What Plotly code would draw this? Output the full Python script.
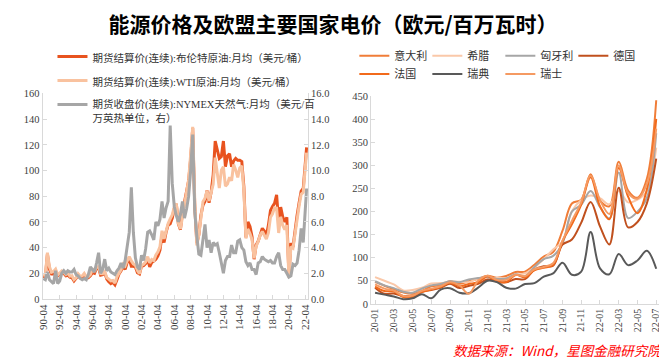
import pandas as pd
import plotly.graph_objects as go

# ---------------- Left chart data (quarterly, from 1990-04, last point 2022-06) ----------------
oil_start = "1990-04-01"
brent = [18, 17, 35,
         23, 19.5, 19.5, 22, 18, 19.5, 20, 20, 18, 18.5, 17, 16.5, 14, 16, 18, 16.5,
         16.5, 18.5, 16.5, 16.5, 18, 20.5, 20, 24, 24, 18.5, 19, 20.5, 15.5, 13.5, 12, 13,
         11, 15, 19.5, 22, 25.5, 23, 28.5, 31, 25.5, 25.5, 25, 20.5, 19.5, 25.5, 26, 27.5,
         31, 25, 28.5, 29.5, 31, 33.5, 38, 49.5, 44, 52, 57.5, 58.5, 63, 70.5, 74, 58.5,
         54, 67.5, 75, 82.5, 92, 109, 133, 72, 43.5, 50, 65, 73, 76, 84.5, 75, 83,
         96.5, 123, 117, 109.5, 111, 123, 103, 111.5, 113, 103, 107.5, 109.5, 108, 108, 107, 87.5,
         48, 60, 56.5, 48.5, 31, 42, 45, 49.5, 55, 53, 49, 57.5, 69, 72, 74.5, 81,
         60, 71.5, 64, 60, 63.5, 18.5, 43.5, 40.5, 55, 65, 75, 84, 86, 105, 118]
wti = [18.5, 18.5, 36,
       25, 20.8, 21.4, 23.2, 18.8, 20.2, 21.8, 20.6, 19.1, 20.2, 17.8, 18.1, 15, 16.4, 19.6, 17.7,
       18, 19.9, 17.3, 17.4, 18.9, 23.6, 21.3, 24.9, 25.2, 19.7, 19.6, 21.3, 16.7, 15.4, 14.1, 14.4,
       12.5, 17.3, 19.7, 22.8, 27.2, 25.7, 29.8, 33, 29.6, 27.4, 26.3, 22.2, 19.7, 26.2, 27, 28.8,
       33, 28.1, 30.7, 29.9, 34.3, 36.7, 40.7, 53.1, 46.8, 53.1, 58.7, 62.4, 65.5, 71.8, 74.4, 58.9,
       54.6, 63.9, 74.1, 85.8, 92.9, 112.6, 134, 76.7, 41.7, 49.8, 64.1, 75.7, 78.3, 84.3, 76.3, 81.9,
       89.4, 110, 97.2, 86.3, 100.3, 102.9, 87.9, 89.5, 94.8, 92, 104.7, 100.5, 94.6, 102, 103.6, 84.4,
       47.2, 54.5, 50.9, 46.2, 31.7, 41.1, 44.7, 49.8, 52.5, 49.3, 46.6, 51.6, 63.7, 66.3, 71, 70.8,
       51.4, 63.9, 57.4, 54, 57.5, 16.6, 40.7, 39.6, 52, 61.7, 72.5, 81.5, 83, 102, 114]
gas = [1.6, 1.5, 2.1,
       1.5, 1.35, 1.2, 2.2, 1.2, 1.4, 2.0, 2.2, 2.0, 2.2, 2.1, 2.1, 2.3, 1.9, 1.8, 1.6,
       1.5, 1.6, 1.5, 1.9, 2.5, 2.3, 2.1, 2.8, 3.6, 2.0, 2.3, 3.1, 2.2, 2.4, 2.1, 2.0,
       1.9, 2.2, 2.4, 2.8, 2.4, 3.0, 4.2, 5.2, 8.7, 5.2, 3.2, 2.5, 2.3, 3.4, 3.0, 3.9,
       5.2, 5.3, 5.0, 4.6, 6.0, 5.7, 6.2, 7.6, 6.3, 7.1, 7.6, 13.5, 9.0, 7.2, 6.5, 6.0,
       6.6, 7.6, 6.3, 7.0, 8.0, 10.0, 12.8, 6.8, 4.9, 3.5, 3.4, 4.6, 5.8, 4.0, 4.6, 3.6,
       4.4, 4.2, 4.3, 3.6, 2.7, 2.0, 3.0, 3.3, 3.3, 4.2, 3.6, 3.6, 4.5, 4.6, 4.0, 3.8,
       2.9, 2.6, 2.8, 2.3, 2.3, 1.9, 2.8, 2.9, 3.3, 3.1, 3.0, 2.9, 3.0, 2.8, 2.8, 3.3,
       3.6, 2.6, 2.3, 2.3, 2.0, 1.7, 1.8, 2.7, 2.6, 2.8, 3.8, 5.5, 4.4, 7.0, 8.6]
oil_ticks = ["90-04", "92-04", "94-04", "96-04", "98-04", "00-04", "02-04", "04-04",
             "06-04", "08-04", "10-04", "12-04", "14-04", "16-04", "18-04", "20-04", "22-04"]

# ---------------- Right chart data (monthly) ----------------
months = ["20-01", "20-02", "20-03", "20-04", "20-05", "20-06", "20-07", "20-08", "20-09", "20-10",
          "20-11", "20-12", "21-01", "21-02", "21-03", "21-04", "21-05", "21-06", "21-07", "21-08",
          "21-09", "21-10", "21-11", "21-12", "22-01", "22-02", "22-03", "22-04", "22-05", "22-06", "22-07"]
italy = [47.5, 39.3, 32.0, 24.8, 21.8, 28.0, 38.0, 40.3, 48.8, 43.6, 48.8, 54.4, 60.7, 56.6, 60.4, 69.0,
         69.9, 84.8, 102.7, 112.4, 158.6, 217.6, 225.9, 281.2, 224.5, 211.7, 308.1, 245.9, 230.1, 271.3, 441.6]
greece = [58, 50, 42, 29, 30, 35, 44, 45, 48, 48, 47, 55, 53, 56, 56, 63,
          66, 79, 97, 118, 135, 201, 225, 235, 229, 216, 245, 220, 226, 245, 339]
hungary = [49, 40, 34, 26, 24, 33, 40, 43, 49, 47, 53, 56, 58, 54, 55, 64,
           60, 80, 97, 104, 131, 200, 215, 245, 210, 185, 285, 186, 200, 230, 370]
germany = [35.0, 21.9, 22.5, 17.1, 17.6, 26.2, 30.1, 34.9, 43.7, 34.4, 38.8, 43.5, 52.8, 48.8, 47.0, 53.7,
           53.7, 74.1, 81.5, 82.7, 128.4, 139.5, 176.2, 221.1, 167.9, 128.8, 252.0, 165.8, 177.5, 218.0, 315.0]
france = [37.5, 27.8, 26.7, 15.0, 14.2, 25.5, 31.2, 36.4, 45.7, 38.2, 43.2, 46.9, 59.6, 47.9, 47.2, 62.7,
          57.3, 72.6, 78.1, 84.3, 135.8, 172.6, 215.1, 274.5, 211.5, 183.5, 294.8, 232.5, 196.6, 247.8, 401.0]
sweden = [24, 20, 16, 10, 12, 21, 12, 31, 34, 24, 23, 35, 50, 47, 35, 33,
          43, 45, 59, 66, 89, 63, 70, 156, 77, 64, 108, 84, 94, 115, 76]
switzerland = [42, 33, 29, 17, 18, 28, 33, 38, 47, 40, 22, 50, 61, 52, 52, 63,
               60, 75, 80, 88, 137, 180, 220, 278, 225, 195, 300, 240, 228, 260, 380]

# ---------------- Build ----------------
oil_dates = list(pd.date_range(oil_start, periods=len(brent) - 1, freq="3MS")) + [pd.Timestamp("2022-06-01")]
oil_tickvals = [pd.Timestamp(f"{(1900 if int(t[:2]) >= 50 else 2000) + int(t[:2])}-{t[3:]}-01") for t in oil_ticks]

W, H = 667, 360
def px_x(a, b):
    return [a / W, b / W]
def px_y(top, bottom):
    return [1 - bottom / H, 1 - top / H]

SERIF = "Liberation Serif, Noto Sans CJK SC, serif"
CJK = "Noto Sans CJK SC, sans-serif"
AX = "#D9D9D9"
TICKC = "#404040"

fig = go.Figure()
fig.add_trace(go.Scatter(x=oil_dates, y=brent, mode="lines", xaxis="x", yaxis="y",
                         line=dict(color="#E8531F", width=3),
                         name="期货结算价(连续):布伦特原油:月均（美元/桶）", legendgroup="a"))
fig.add_trace(go.Scatter(x=oil_dates, y=wti, mode="lines", xaxis="x", yaxis="y",
                         line=dict(color="#F9C29F", width=3),
                         name="期货结算价(连续):WTI原油:月均（美元/桶）", legendgroup="b"))
fig.add_trace(go.Scatter(x=oil_dates, y=gas, mode="lines", xaxis="x", yaxis="y2",
                         line=dict(color="#A6A6A6", width=3),
                         name="期货收盘价(连续):NYMEX天然气:月均（美元/百<br>万英热单位，右）", legendgroup="c"))

countries = [("意大利", italy, "#F07D38", "legend2"), ("希腊", greece, "#FAC8A9", "legend2"),
             ("匈牙利", hungary, "#A6A6A6", "legend2"), ("德国", germany, "#C0501E", "legend2"),
             ("法国", france, "#F26A1B", "legend3"), ("瑞典", sweden, "#595959", "legend3"),
             ("瑞士", switzerland, "#F59A62", "legend3")]
for name, vals, col, lg in countries:
    fig.add_trace(go.Scatter(x=months, y=vals, mode="lines", xaxis="x2", yaxis="y3",
                             line=dict(color=col, width=2, shape="spline", smoothing=1.0),
                             name=name, legend=lg))

tickfont = dict(family=SERIF, size=10.5, color=TICKC)
rlegend = dict(orientation="h", x=345 / W, xanchor="left", yanchor="middle",
               bgcolor="rgba(0,0,0,0)", entrywidth=28, entrywidthmode="pixels", traceorder="normal",
               font=dict(family=SERIF, size=11, color="#333333"))
fig.update_layout(
    width=W, height=H, margin=dict(l=0, r=0, t=0, b=0),
    paper_bgcolor="white", plot_bgcolor="white",
    title=dict(text="<b>能源价格及欧盟主要国家电价（欧元/百万瓦时）</b>", x=325 / W, xanchor="center",
               y=1 - 17 / H, yanchor="middle", font=dict(family=CJK, size=21, color="black")),
    xaxis=dict(domain=px_x(29, 298), type="date", range=["1990-03-01", "2022-08-01"],
               tickvals=oil_tickvals, ticktext=oil_ticks, tickangle=-90, tickfont=dict(family=SERIF, size=11, color=TICKC),
               showline=True, linecolor=AX, linewidth=1, ticks="inside", ticklen=4, tickcolor=AX,
               showgrid=False, zeroline=False, anchor="y"),
    yaxis=dict(domain=px_y(83, 295), range=[0, 160], dtick=20, tickfont=tickfont,
               showline=True, linecolor=AX, ticks="inside", ticklen=4, tickcolor=AX,
               showgrid=False, zeroline=False, anchor="x"),
    yaxis2=dict(overlaying="y", side="right", range=[0, 16], dtick=2, tickformat=".1f", tickfont=tickfont,
                showline=True, linecolor=AX, ticks="inside", ticklen=4, tickcolor=AX,
                showgrid=False, zeroline=False, anchor="x"),
    xaxis2=dict(domain=px_x(362, 655), type="category", categoryarray=months, range=[-0.42, 30.42],
                tickvals=months[::2], tickangle=-90, tickfont=dict(family=SERIF, size=10, color=TICKC),
                showline=True, linecolor=AX, ticks="inside", ticklen=4, tickcolor=AX,
                showgrid=False, zeroline=False, anchor="y3"),
    yaxis3=dict(domain=px_y(86, 300), range=[0, 450], dtick=50, tickfont=tickfont,
                showline=True, linecolor=AX, ticks="inside", ticklen=4, tickcolor=AX,
                showgrid=False, zeroline=False, anchor="x2"),
    legend=dict(x=39 / W, xanchor="left", y=1 - 31 / H, yanchor="top", bgcolor="rgba(0,0,0,0)",
                traceorder="grouped",
                font=dict(family=SERIF, size=10.5, color="#333333"), tracegroupgap=5, valign="top"),
    legend2=dict(rlegend, y=1 - 44 / H),
    legend3=dict(rlegend, y=1 - 63 / H),
    showlegend=True,
    annotations=[dict(text="数据来源：Wind，星图金融研究院", x=660 / W, xanchor="right", y=1 - 348 / H,
                      yanchor="middle", xref="paper", yref="paper", showarrow=False,
                      font=dict(family=CJK, size=13.5, color="#FF0000", style="italic"))],
)

fig.write_html("out.html")
